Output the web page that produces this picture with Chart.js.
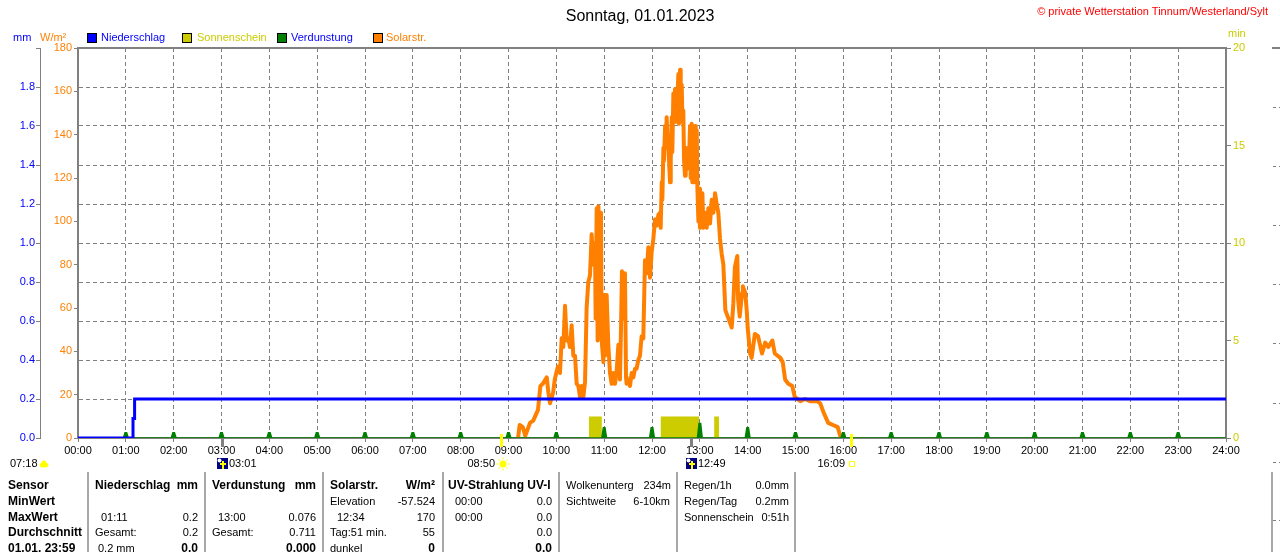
<!DOCTYPE html>
<html>
<head>
<meta charset="utf-8">
<title>Wetterstation Tinnum - 01.01.2023</title>
<script src="https://cdn.jsdelivr.net/npm/chart.js@4.4.0/dist/chart.umd.min.js"></script>
<style>
  html, body { margin: 0; padding: 0; background: #fff; }
  body { width: 1280px; height: 552px; position: relative; overflow: hidden;
         font-family: "Liberation Sans", Arial, sans-serif; font-size: 11px; color: #000; }
  #chart { position: absolute; left: 0; top: 0; }
  .t { position: absolute; white-space: nowrap; line-height: 13px; }
  .b { font-weight: bold; font-size: 12px; }
  .box { position: absolute; top: 33px; width: 8px; height: 8px; border: 1px solid #000; }
  .sep { position: absolute; top: 472px; width: 2px; height: 80px; background: #a8a8a8; }
</style>
</head>
<body>
<canvas id="chart" width="1280" height="552"></canvas>

<div class="t" style="left:0;width:1280px;text-align:center;top:7px;font-size:16px;line-height:18px;">Sonntag, 01.01.2023</div>
<div class="t" style="right:12px;top:5px;color:#ff0000;">&copy; private Wetterstation Tinnum/Westerland/Sylt</div>

<div class="t" style="left:13px;top:31px;color:#0000ff;">mm</div>
<div class="t" style="left:40px;top:31px;color:#ff8000;">W/m²</div>
<div class="box" style="left:87px;background:#0000ff;"></div>
<div class="t" style="left:101px;top:31px;color:#0000ff;">Niederschlag</div>
<div class="box" style="left:182px;background:#cccc00;"></div>
<div class="t" style="left:197px;top:31px;color:#cccc00;">Sonnenschein</div>
<div class="box" style="left:277px;background:#008000;"></div>
<div class="t" style="left:291px;top:31px;color:#0000ff;">Verdunstung</div>
<div class="box" style="left:373px;background:#ff8000;"></div>
<div class="t" style="left:386px;top:31px;color:#ff8000;">Solarstr.</div>
<div class="t" style="left:1228px;top:27px;color:#cccc00;">min</div>

<div id="table"></div>

<script>
// Niederschlag (mm), stepped
const rainTimes = [0, 69, 71, 1440];
const rainValues = [0, 0.1, 0.2, 0.2];

// Verdunstung (mm), hourly values
const evapHours = [1, 2, 3, 4, 5, 6, 7, 8, 9, 10, 11, 12, 13, 14, 15, 16, 17, 18, 19, 20, 21, 22, 23];
const evapValues = [0.027, 0.027, 0.027, 0.027, 0.027, 0.027, 0.027, 0.027, 0.027, 0.027, 0.052, 0.052,
                    0.074, 0.052, 0.027, 0.027, 0.027, 0.027, 0.027, 0.027, 0.027, 0.027, 0.027];

// Sonnenschein (min), blocks
const sunStart = [641, 731, 798];
const sunEnd = [657, 779, 804];
const sunMinutes = [1.1, 1.1, 1.1];

// Solarstrahlung (W/m²), minutes since midnight
const solarTimes = [552, 554, 558, 561, 567, 571, 577, 580, 583, 588, 590, 592, 596, 598, 602,
  604.6, 606.7, 608.8, 610.9, 613, 615, 617.1, 619.2, 621.3, 623.4, 625.5, 627.6, 629.7, 631.8, 633.9, 636,
  638, 640.1, 642.2, 644.3, 646.4, 648.5, 649.3, 650.6, 651.8, 652.7, 654.8, 656, 656.9, 659, 660.2, 661,
  663.1, 665.2, 667.3, 669.4, 671.5, 673.6, 675.7, 677.8, 679.8, 681.1, 682.3, 684, 686.1, 687.4, 688.2,
  690.3, 692.4, 694.5, 696.6, 698.7, 700.7, 702.8, 704.9, 707, 709.1, 711.2, 713.3, 715.4, 717.5, 719.6,
  721.7, 723.8, 725.9, 728,
  730.1, 730.9, 732.2, 733, 734.3, 735.1, 736.4, 737.2, 738.4, 739.3, 740.5, 741.4, 742.6, 743.5, 744.7,
  745.5, 746.8, 747.6, 748.9, 749.7, 751, 751.8, 753.1, 753.9, 755.2, 756, 757.3, 758.1, 759.3, 760.2,
  761.4, 762.3, 763.5, 765.6, 766.4, 767.7, 768.5, 769.8, 770.6, 771.9, 772.7, 774, 774.8, 776.1, 776.9,
  778.2, 779, 780.2, 781.1, 782.3, 783.2, 784.4, 786.5, 788.6, 790.7, 792.8, 794.9, 797, 799.1, 801.1,
  803.2, 805.3, 807.4, 809.5,
  812, 815, 818, 820, 822, 824, 827, 828, 830, 833, 834, 837, 839, 840, 843, 845, 849, 853, 858, 862, 866,
  871, 874, 881, 884, 887, 891, 896, 899, 906, 912, 918, 927, 931, 935, 941, 947, 953, 956, 957];
const solarValues = [0, 6, 5, 1, 7, 8, 13, 24, 25, 28, 21, 16, 21, 27, 33,
  30, 46, 42, 61, 45, 46, 42, 52, 38, 38, 25, 24, 19, 24, 19, 26,
  60, 72, 75, 94, 80, 90, 55, 106, 45, 107, 90, 104, 45, 35, 66, 38,
  66, 43, 30, 25, 30, 25, 31, 43, 27, 50, 77, 55, 76, 28, 25,
  27, 24, 30, 28, 32, 32, 36, 38, 47, 46, 82, 76, 88, 74, 86,
  92, 101, 98, 103,
  104, 97, 118, 110, 134, 128, 144, 134, 148, 139, 136, 128, 118, 128, 148,
  132, 159, 146, 161, 150, 146, 157, 168, 145, 170, 146, 163, 148, 151, 128,
  121, 134, 124, 132, 128, 144, 120, 145, 118, 138, 118, 144, 120, 142, 116,
  100, 115, 97, 110, 100, 113, 97, 104, 97, 106, 99, 110, 104, 113, 108,
  104, 92, 85, 80,
  59, 56, 53, 51, 62, 79, 84, 64, 56, 67, 70, 67, 58, 51, 39, 37, 48, 47, 39, 44, 42,
  45, 39, 37, 35, 27, 25, 24, 19, 17, 18, 17, 17, 16, 12, 7, 6, 5, 1, 0];

// events under the time axis
const sunEvents = ['08:50', '16:09'];
const moonEvents = ['03:01', '12:49'];

const pad2 = n => String(n).padStart(2, '0');
const toMin = s => Number(s.slice(0, 2)) * 60 + Number(s.slice(3));

const rainData = rainTimes.map((t, i) => ({ x: t, y: rainValues[i] }));
const solarData = solarTimes.map((t, i) => ({ x: t, y: solarValues[i] }));

const evapData = [{ x: 0, y: 0 }];
evapHours.forEach((h, i) => {
  const m = h * 60;
  evapData.push({ x: m - 3, y: 0 }, { x: m - 1, y: evapValues[i] }, { x: m + 1, y: evapValues[i] }, { x: m + 3, y: 0 });
});
evapData.push({ x: 1440, y: 0 });

const sunData = [];
sunStart.forEach((s, i) => {
  sunData.push({ x: s, y: 0 }, { x: s, y: sunMinutes[i] }, { x: sunEnd[i], y: sunMinutes[i] }, { x: sunEnd[i], y: 0 });
});

function drawMoon(ctx, x, y) {
  ctx.fillStyle = '#000080';
  ctx.fillRect(x, y, 11, 11);
  ctx.fillStyle = '#ffffff';
  ctx.beginPath(); ctx.arc(x + 2.5, y + 2.5, 2, 0, Math.PI * 2); ctx.fill();
  ctx.fillStyle = '#ffff00';
  ctx.fillRect(x + 5, y + 3, 2, 8);
  ctx.fillRect(x + 3, y + 5, 6, 2);
}

function drawSun(ctx, cx, cy) {
  ctx.strokeStyle = '#ffff00';
  ctx.fillStyle = '#ffff00';
  ctx.lineWidth = 1;
  ctx.beginPath(); ctx.arc(cx, cy, 3.5, 0, Math.PI * 2); ctx.fill();
  ctx.beginPath();
  for (let k = 0; k < 8; k++) {
    const a = k * Math.PI / 4;
    ctx.moveTo(cx + Math.cos(a) * 4.5, cy + Math.sin(a) * 4.5);
    ctx.lineTo(cx + Math.cos(a) * 6.5, cy + Math.sin(a) * 6.5);
  }
  ctx.stroke();
}

function drawCloud(ctx, cx, cy) {
  ctx.fillStyle = '#ffff00';
  ctx.beginPath();
  ctx.ellipse(cx, cy + 1, 4.5, 2.5, 0, 0, Math.PI * 2);
  ctx.arc(cx, cy - 1, 2.5, 0, Math.PI * 2);
  ctx.fill();
}

const markers = {
  id: 'markers',
  afterDraw(chart) {
    const { ctx, chartArea: a } = chart;
    const xs = chart.scales.x;
    ctx.save();
    ctx.setLineDash([]);
    ctx.strokeStyle = '#808080';
    ctx.lineWidth = 2;
    ctx.beginPath();
    ctx.moveTo(a.left - 1, a.top);
    ctx.lineTo(a.right + 1, a.top);
    ctx.moveTo(1272, a.top);
    ctx.lineTo(1280, a.top);
    ctx.stroke();

    // edge of the neighbouring panel
    ctx.lineWidth = 1;
    ctx.setLineDash([3, 3]);
    ctx.beginPath();
    [107, 166, 225, 284, 343, 403, 462, 520].forEach(y => {
      ctx.moveTo(1273, y + 0.5);
      ctx.lineTo(1280, y + 0.5);
    });
    ctx.stroke();
    ctx.setLineDash([]);

    ctx.font = '11px "Liberation Sans", Arial, sans-serif';
    ctx.textBaseline = 'middle';
    const ty = 464;

    moonEvents.forEach(t => {
      const px = Math.round(xs.getPixelForValue(toMin(t)));
      ctx.fillStyle = '#808080';
      ctx.fillRect(px - 1, a.bottom + 1, 3, 8);
      drawMoon(ctx, px - 5, ty - 6);
      ctx.fillStyle = '#000';
      ctx.textAlign = 'left';
      ctx.fillText(t, px + 7, ty);
    });

    sunEvents.forEach((t, i) => {
      const px = Math.round(xs.getPixelForValue(toMin(t)));
      ctx.fillStyle = '#ffff00';
      ctx.fillRect(px - 1, a.bottom - 4, 3, 13);
      ctx.fillStyle = '#000';
      ctx.textAlign = 'right';
      ctx.fillText(t, px - 6, ty);
      if (i === 0) {
        drawSun(ctx, px + 2, ty);
      } else {
        ctx.strokeStyle = '#ffff00';
        ctx.lineWidth = 1;
        ctx.strokeRect(px - 1.5, ty - 2.5, 5, 5);
      }
    });

    ctx.fillStyle = '#000';
    ctx.textAlign = 'left';
    ctx.fillText('07:18', 10, ty);
    drawCloud(ctx, 44, ty);
    ctx.restore();
  }
};

Chart.defaults.font.family = '"Liberation Sans", Arial, sans-serif';
Chart.defaults.font.size = 11;

new Chart(document.getElementById('chart'), {
  type: 'line',
  data: {
    datasets: [
      { label: 'Niederschlag', data: rainData, yAxisID: 'yMm', stepped: true,
        borderColor: '#0000ff', borderWidth: 3, pointRadius: 0 },
      { label: 'Verdunstung', data: evapData, yAxisID: 'yMm', fill: 'origin',
        borderColor: '#008000', backgroundColor: '#008000', borderWidth: 1.5, pointRadius: 0 },
      { label: 'Solarstr.', data: solarData, yAxisID: 'yW',
        borderColor: '#ff8000', borderWidth: 4, borderJoinStyle: 'round', pointRadius: 0 },
      { label: 'Sonnenschein', data: sunData, yAxisID: 'yMin', fill: 'origin',
        borderColor: '#cccc00', backgroundColor: '#cccc00', borderWidth: 0, pointRadius: 0 }
    ]
  },
  options: {
    responsive: false,
    animation: false,
    events: [],
    layout: { padding: { top: 48, bottom: 94, left: 0, right: 0 } },
    plugins: { legend: { display: false }, tooltip: { enabled: false } },
    scales: {
      x: {
        type: 'linear', min: 0, max: 1440, position: 'bottom',
        afterFit: s => { s.height = 20; },
        ticks: { stepSize: 60, autoSkip: false, maxRotation: 0, color: '#000', padding: 2,
                 callback: v => pad2(v / 60) + ':00' },
        grid: { color: '#808080', tickLength: 4, tickColor: '#808080' },
        border: { color: '#808080', width: 2, dash: [4, 3] }
      },
      yMm: {
        position: 'left', weight: 1, min: 0, max: 2,
        afterFit: s => { s.width = 40; },
        ticks: { stepSize: 0.2, color: '#0000ff', padding: 1,
                 callback: v => v > 1.95 ? '' : v.toFixed(1) },
        grid: { color: '#808080', tickLength: 4, tickColor: '#808080' },
        border: { color: '#808080', width: 1, dash: [4, 3] }
      },
      yW: {
        position: 'left', weight: 0, min: 0, max: 180,
        afterFit: s => { s.width = 38; },
        ticks: { stepSize: 20, color: '#ff8000', padding: 2 },
        grid: { drawOnChartArea: false, tickLength: 4, color: '#808080' },
        border: { color: '#808080', width: 2 }
      },
      yMin: {
        position: 'right', min: 0, max: 20,
        afterFit: s => { s.width = 54; },
        ticks: { stepSize: 5, color: '#cccc00', padding: 2 },
        grid: { drawOnChartArea: false, tickLength: 5, color: '#808080' },
        border: { color: '#808080', width: 2 }
      }
    }
  },
  plugins: [markers]
});

// Tabelle unter dem Diagramm
const rowY = [485, 501, 517, 532, 548];
const seps = [88, 205, 323, 443, 559, 677, 795, 1272];
const cells = [
  [8, 0, 'Sensor', 'l', 1], [95, 0, 'Niederschlag', 'l', 1], [198, 0, 'mm', 'r', 1],
  [212, 0, 'Verdunstung', 'l', 1], [316, 0, 'mm', 'r', 1],
  [330, 0, 'Solarstr.', 'l', 1], [435, 0, 'W/m²', 'r', 1],
  [448, 0, 'UV-Strahlung UV-I', 'l', 1],
  [566, 0, 'Wolkenunterg', 'l'], [671, 0, '234m', 'r'],
  [684, 0, 'Regen/1h', 'l'], [789, 0, '0.0mm', 'r'],

  [8, 1, 'MinWert', 'l', 1],
  [330, 1, 'Elevation', 'l'], [435, 1, '-57.524', 'r'],
  [455, 1, '00:00', 'l'], [552, 1, '0.0', 'r'],
  [566, 1, 'Sichtweite', 'l'], [670, 1, '6-10km', 'r'],
  [684, 1, 'Regen/Tag', 'l'], [789, 1, '0.2mm', 'r'],

  [8, 2, 'MaxWert', 'l', 1],
  [101, 2, '01:11', 'l'], [198, 2, '0.2', 'r'],
  [218, 2, '13:00', 'l'], [316, 2, '0.076', 'r'],
  [337, 2, '12:34', 'l'], [435, 2, '170', 'r'],
  [455, 2, '00:00', 'l'], [552, 2, '0.0', 'r'],
  [684, 2, 'Sonnenschein', 'l'], [789, 2, '0:51h', 'r'],

  [8, 3, 'Durchschnitt', 'l', 1],
  [95, 3, 'Gesamt:', 'l'], [198, 3, '0.2', 'r'],
  [212, 3, 'Gesamt:', 'l'], [316, 3, '0.711', 'r'],
  [330, 3, 'Tag:51 min.', 'l'], [435, 3, '55', 'r'],
  [552, 3, '0.0', 'r'],

  [8, 4, '01.01. 23:59', 'l', 1],
  [98, 4, '0.2 mm', 'l'], [198, 4, '0.0', 'r', 1],
  [316, 4, '0.000', 'r', 1],
  [330, 4, 'dunkel', 'l'], [435, 4, '0', 'r', 1],
  [552, 4, '0.0', 'r', 1]
];

const table = document.getElementById('table');
seps.forEach(x => {
  const d = document.createElement('div');
  d.className = 'sep';
  d.style.left = (x - 1) + 'px';
  table.appendChild(d);
});
cells.forEach(([x, r, text, align, bold]) => {
  const d = document.createElement('div');
  d.className = bold ? 't b' : 't';
  d.textContent = text;
  d.style.top = (rowY[r] - 6.5) + 'px';
  if (align === 'r') d.style.right = (1280 - x) + 'px';
  else d.style.left = x + 'px';
  table.appendChild(d);
});
</script>
</body>
</html>
